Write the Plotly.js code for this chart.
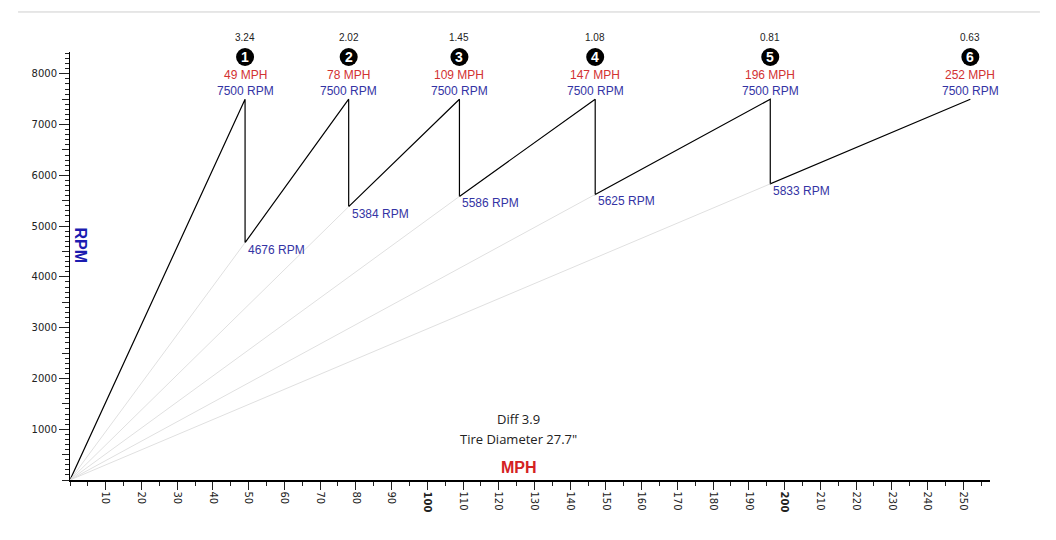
<!DOCTYPE html>
<html>
<head>
<meta charset="utf-8">
<script src="https://cdn.plot.ly/plotly-3.0.1.min.js"></script>
<style>
  html, body { margin: 0; padding: 0; background: #fff; }
  #chart { width: 1056px; height: 540px; }
</style>
</head>
<body>
<div id="chart"></div>
<script>
// Gearing: ratios, shift speeds at redline and the RPM each upshift lands on
const gearRatios = [3.24, 2.02, 1.45, 1.08, 0.81, 0.63];
const gearNumbers = [1, 2, 3, 4, 5, 6];
const shiftMph = [49, 78, 109, 147, 196, 252];
const shiftRpm = [7500, 7500, 7500, 7500, 7500, 7500];
const dropRpm = [4676, 5384, 5586, 5625, 5833];
const diffRatio = 3.9;
const tireDiameter = 27.7;

const xTickVals = [10, 20, 30, 40, 50, 60, 70, 80, 90, 100, 110, 120, 130, 140, 150, 160, 170, 180, 190, 200, 210, 220, 230, 240, 250];
const xTickText = xTickVals.map(v => (v % 100 === 0 ? '<b>' + v + '</b>' : String(v)));

const X_RANGE = [0, 257.5];
const Y_RANGE = [0, 8430];

// Sawtooth: accelerate to redline in each gear, drop to the next gear's RPM
const sawX = [0], sawY = [0];
for (let i = 0; i < shiftMph.length; i++) {
  sawX.push(shiftMph[i]); sawY.push(shiftRpm[i]);
  if (i < dropRpm.length) { sawX.push(shiftMph[i]); sawY.push(dropRpm[i]); }
}

// Faint lines from the origin to where each higher gear takes over
const guideX = [], guideY = [];
for (let i = 0; i < dropRpm.length; i++) {
  guideX.push(0, shiftMph[i], null);
  guideY.push(0, dropRpm[i], null);
}

const traces = [
  { x: guideX, y: guideY, type: 'scatter', mode: 'lines', yaxis: 'y2',
    line: { color: '#e0e0e0', width: 1 }, hoverinfo: 'skip', showlegend: false },
  { x: sawX, y: sawY, type: 'scatter', mode: 'lines',
    line: { color: '#000', width: 1.2 }, hoverinfo: 'skip', showlegend: false }
];

const SANS = 'Liberation Sans, Arial, sans-serif';
const RED = '#d23232';
const BLUE = '#3434a4';

// Black gear badges above each shift point (paper-referenced vertically so they are not clipped)
const shapes = [
  { type: 'line', xref: 'paper', yref: 'paper', x0: -0.0565, x1: 1.0543, y0: 1.0935, y1: 1.0935,
    line: { color: '#cfcfcf', width: 1 } }
];
const annotations = [];
for (let i = 0; i < shiftMph.length; i++) {
  shapes.push({ type: 'circle', xref: 'x', yref: 'paper',
    xsizemode: 'pixel', ysizemode: 'pixel', xanchor: shiftMph[i], yanchor: 1,
    x0: -9, x1: 9, y0: -14, y1: 4,
    fillcolor: '#000', line: { width: 0 } });

  const base = { x: shiftMph[i], y: shiftRpm[i], xref: 'x', yref: 'y', showarrow: false,
                 xanchor: 'center', yanchor: 'middle', borderpad: 0 };
  annotations.push(Object.assign({}, base, { text: shiftRpm[i] + ' RPM', yshift: 8,
    font: { family: SANS, size: 12, color: BLUE } }));
  annotations.push(Object.assign({}, base, { text: shiftMph[i] + ' MPH', yshift: 24,
    font: { family: SANS, size: 12, color: RED } }));
  annotations.push(Object.assign({}, base, { text: '<b>' + gearNumbers[i] + '</b>', yshift: 42,
    font: { family: SANS, size: 14, color: '#fff' } }));
  annotations.push(Object.assign({}, base, { text: gearRatios[i].toFixed(2), yshift: 62,
    font: { family: SANS, size: 10, color: '#222' } }));
}
for (let i = 0; i < dropRpm.length; i++) {
  annotations.push({ x: shiftMph[i], y: dropRpm[i], xref: 'x', yref: 'y', showarrow: false,
    xanchor: 'left', yanchor: 'top', xshift: 1, yshift: 2,
    text: dropRpm[i] + ' RPM', font: { family: SANS, size: 12, color: BLUE } });
}
annotations.push(
  { x: 0.488, y: 0.143, xref: 'paper', yref: 'paper', showarrow: false, xanchor: 'center', yanchor: 'middle',
    text: 'Diff ' + diffRatio, font: { family: 'Open Sans, sans-serif', size: 13, color: '#222' } },
  { x: 0.488, y: 0.096, xref: 'paper', yref: 'paper', showarrow: false, xanchor: 'center', yanchor: 'middle',
    text: 'Tire Diameter ' + tireDiameter + '"', font: { family: 'Open Sans, sans-serif', size: 13, color: '#222' } },
  { x: 0.488, y: 0.03, xref: 'paper', yref: 'paper', showarrow: false, xanchor: 'center', yanchor: 'middle',
    text: '<b>MPH</b>', font: { family: SANS, size: 16, color: '#d42222' } },
  { x: 0.012, y: 0.548, xref: 'paper', yref: 'paper', showarrow: false, xanchor: 'center', yanchor: 'middle',
    textangle: 90, text: '<b>RPM</b>', font: { family: SANS, size: 16, color: '#1c1cb0' } }
);

const layout = {
  width: 1056, height: 540,
  margin: { l: 70, r: 66, t: 52, b: 60 },
  paper_bgcolor: '#fff', plot_bgcolor: '#fff',
  showlegend: false,
  xaxis: {
    range: X_RANGE, fixedrange: true,
    showgrid: false, zeroline: false,
    showline: true, linecolor: '#000', linewidth: 1.5,
    ticks: 'outside', ticklen: 8, tickcolor: '#222', tickwidth: 1,
    tickmode: 'array', tickvals: xTickVals, ticktext: xTickText, tickangle: 90,
    tickfont: { family: 'DejaVu Sans, sans-serif', size: 10, color: '#222' },
    minor: { dtick: 5, tick0: 0, ticks: 'outside', ticklen: 4, tickcolor: '#222', showgrid: false }
  },
  yaxis: {
    range: Y_RANGE, fixedrange: true,
    showgrid: false, zeroline: false,
    showline: true, linecolor: '#000', linewidth: 1,
    ticks: 'outside', ticklen: 10, tickcolor: '#222',
    tickmode: 'array', tickvals: [1000, 2000, 3000, 4000, 5000, 6000, 7000, 8000],
    tickfont: { family: 'DejaVu Sans, sans-serif', size: 10, color: '#222' },
    minor: { dtick: 100, tick0: 0, ticks: 'outside', ticklen: 4, tickcolor: '#222', showgrid: false }
  },
  yaxis2: {
    overlaying: 'y', anchor: 'x', side: 'left',
    range: Y_RANGE, fixedrange: true,
    showgrid: false, zeroline: false, showline: false,
    ticks: 'outside', ticklen: 7, tickcolor: '#222', dtick: 500, tick0: 0,
    showticklabels: false
  },
  shapes: shapes,
  annotations: annotations
};

Plotly.newPlot('chart', traces, layout, { staticPlot: true, displayModeBar: false });
</script>
</body>
</html>
